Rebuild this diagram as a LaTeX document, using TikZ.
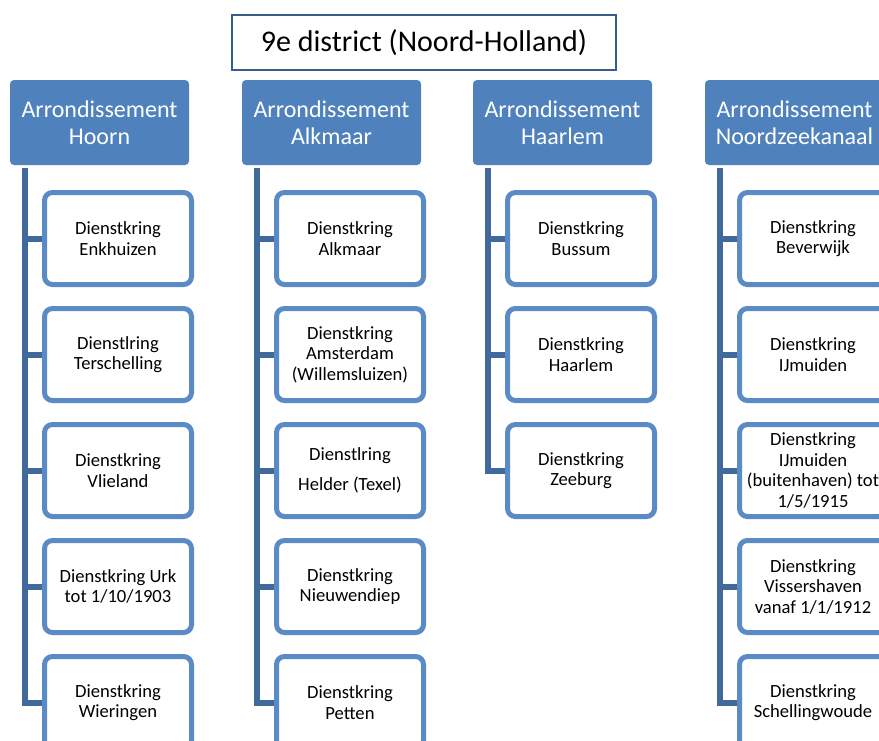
\documentclass[tikz,border=0pt]{standalone}
\usepackage{fontspec}
\setmainfont{Carlito}
\definecolor{hblue}{HTML}{4F81BD}
\definecolor{cblue}{HTML}{5B8BC7}
\definecolor{lblue}{HTML}{41699B}
\definecolor{tblue}{HTML}{3A5E8C}
\begin{document}
\begin{tikzpicture}[x=1pt,y=-1pt,
  titlebox/.style={draw=tblue, line width=2pt, minimum width=384pt, minimum height=55pt, inner sep=0pt, font=\fontsize{30}{36}\selectfont},
  hdr/.style={fill=hblue, rounded corners=4pt, minimum width=179pt, minimum height=85pt, text=white, align=center, inner sep=0pt, font=\fontsize{24}{27}\selectfont},
  child/.style={draw=cblue, line width=5pt, fill=white, rounded corners=8pt, minimum width=147pt, minimum height=92pt, inner sep=0pt, align=center, font=\fontsize{18.6}{20.5}\selectfont},
  conn/.style={draw=lblue, line width=6pt}]
\useasboundingbox (0,0) rectangle (879,740);
\clip (0,0) rectangle (879,740);
\fill[white] (0,0) rectangle (879,740);

\node[titlebox] (title) at (424,42.5) {9e district (Noord-Holland)};

\node[hdr] (h1) at (99.5,122.5) {Arrondissement\\Hoorn};
\node[hdr] (h2) at (331.5,122.5) {Arrondissement\\Alkmaar};
\node[hdr] (h3) at (562.5,122.5) {Arrondissement\\Haarlem};
\node[hdr] (h4) at (794.5,122.5) {Arrondissement\\Noordzeekanaal};

\coordinate (v1) at (25,168);
\coordinate (v2) at (257,168);
\coordinate (v3) at (488,168);
\coordinate (v4) at (720,168);

% child node positions
\path (118,238.5) coordinate (p11) (118,354.5) coordinate (p12) (118,470.5) coordinate (p13) (118,586.5) coordinate (p14) (118,702.5) coordinate (p15);
\path (350,238.5) coordinate (p21) (350,354.5) coordinate (p22) (350,470.5) coordinate (p23) (350,586.5) coordinate (p24) (350,702.5) coordinate (p25);
\path (581,238.5) coordinate (p31) (581,354.5) coordinate (p32) (581,470.5) coordinate (p33);
\path (813,238.5) coordinate (p41) (813,354.5) coordinate (p42) (813,470.5) coordinate (p43) (813,586.5) coordinate (p44) (813,702.5) coordinate (p45);

% connectors first
\foreach \i in {1,...,5} {\draw[conn] (v1) |- (p1\i);}
\foreach \i in {1,...,5} {\draw[conn] (v2) |- (p2\i);}
\foreach \i in {1,...,3} {\draw[conn] (v3) |- (p3\i);}
\foreach \i in {1,...,5} {\draw[conn] (v4) |- (p4\i);}

\node[child] (c11) at (p11) {Dienstkring\\Enkhuizen};
\node[child] (c12) at (p12) {Dienstlring\\Terschelling};
\node[child] (c13) at (p13) {Dienstkring\\Vlieland};
\node[child] (c14) at (p14) {Dienstkring Urk\\tot 1/10/1903};
\node[child] (c15) at (p15) {Dienstkring\\Wieringen};

\node[child] (c21) at (p21) {Dienstkring\\Alkmaar};
\node[child] (c22) at (p22) {Dienstkring\\Amsterdam\\(Willemsluizen)};
\node[child] (c23) at (p23) {Dienstlring\\[9.5pt]Helder (Texel)};
\node[child] (c24) at (p24) {Dienstkring\\Nieuwendiep};
\node[child] (c25) at (p25) {Dienstkring\\Petten};

\node[child] (c31) at (p31) {Dienstkring\\Bussum};
\node[child] (c32) at (p32) {Dienstkring\\Haarlem};
\node[child] (c33) at (p33) {Dienstkring\\Zeeburg};

\node[child] (c41) at (p41) {Dienstkring\\Beverwijk};
\node[child] (c42) at (p42) {Dienstkring\\IJmuiden};
\node[child] (c43) at (p43) {Dienstkring\\IJmuiden\\(buitenhaven) tot\\1/5/1915};
\node[child] (c44) at (p44) {Dienstkring\\Vissershaven\\vanaf 1/1/1912};
\node[child] (c45) at (p45) {Dienstkring\\Schellingwoude};
\end{tikzpicture}
\end{document}
